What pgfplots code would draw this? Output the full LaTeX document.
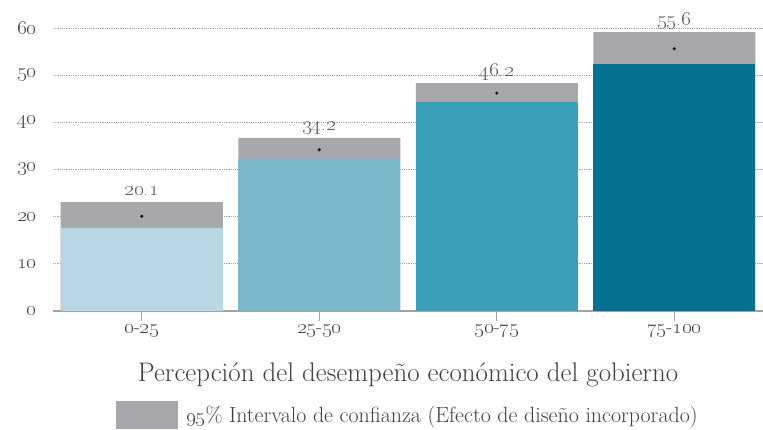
\documentclass[border=0pt]{standalone}
\usepackage{pgfplots}
\pgfplotsset{compat=1.18}
\definecolor{c1}{HTML}{B6D7E3}
\definecolor{c2}{HTML}{7BB8CB}
\definecolor{c3}{HTML}{399EB8}
\definecolor{c4}{HTML}{03718F}
\definecolor{ci}{HTML}{A7A8AC}
\definecolor{axg}{HTML}{A0A4A8}
\pgfplotstableread{
x up mean lab
0 23.1 20.1 20.1
1 36.7 34.2 34.2
2 48.3 46.2 46.2
3 59.1 55.6 55.6
}\cidata
\newcommand{\os}[1]{\oldstylenums{#1}}
\begin{document}
\begin{tikzpicture}
\begin{axis}[name=ax, scale only axis, width=710bp, height=283bp,
  xmin=-0.5, xmax=3.5, ymin=0, ymax=60, clip=false,
  axis x line=bottom, axis y line=left,
  axis line style={-},
  x axis line style={draw=axg, line width=1.3bp},
  y axis line style={draw=none},
  xtick={0,1,2,3},
  xticklabels={\os{0}-\os{25},\os{25}-\os{50},\os{50}-\os{75},\os{75}-\os{100}},
  xtick align=outside, major tick length=10bp,
  x tick style={draw=axg, line width=1bp},
  ytick={0,10,20,30,40,50,60},
  yticklabels={\os{0},\os{10},\os{20},\os{30},\os{40},\os{50},\os{60}},
  ytick style={draw=none},
  ymajorgrids, grid style={dash pattern=on 0.7bp off 1.1bp, black!35, line width=0.7bp},
  yticklabel style={font=\fontsize{20}{22}\selectfont, text=black!75, xshift=-8bp},
  xticklabel style={font=\fontsize{20}{22}\selectfont, text=black!75},
  xlabel={Percepción del desempeño económico del gobierno},
  xlabel style={at={(axis description cs:0.5,-0.2261)}, anchor=center, font=\fontsize{27}{30}\selectfont, text=black!75},
  legend style={at={(axis description cs:0.5,-0.3675)}, anchor=center, draw=none, fill=none,
    font=\fontsize{22}{24}\selectfont, text=black!75},
  legend image code/.code={\fill[ci] (0bp,-14bp) rectangle (62bp,14bp);},
  mybar/.style={ybar, bar width=162bp, bar shift=0pt, draw=none},
]
\addplot[mybar, fill=ci, point meta=explicit symbolic,
  nodes near coords={\expandafter\oldstylenums\expandafter{\pgfplotspointmeta}},
  every node near coord/.style={anchor=base, inner sep=0pt, yshift=7bp, font=\fontsize{20}{22}\selectfont, text=black!65}]
  table[x=x, y=up, meta=lab] {\cidata};
\addlegendentry{\hspace{6bp}\os{95}\% Intervalo de confianza (Efecto de diseño incorporado)}
\addplot[mybar, fill=c1, forget plot] coordinates {(0,17.6)};
\addplot[mybar, fill=c2, forget plot] coordinates {(1,32.2)};
\addplot[mybar, fill=c3, forget plot] coordinates {(2,44.3)};
\addplot[mybar, fill=c4, forget plot] coordinates {(3,52.3)};
\addplot[only marks, mark=*, mark size=1.3bp, black, forget plot] table[x=x, y=mean] {\cidata};
\end{axis}
\pgfresetboundingbox
\path (ax.south west) ++(-53bp,-119bp) (ax.north east) ++(0bp,28bp);
\end{tikzpicture}
\end{document}
